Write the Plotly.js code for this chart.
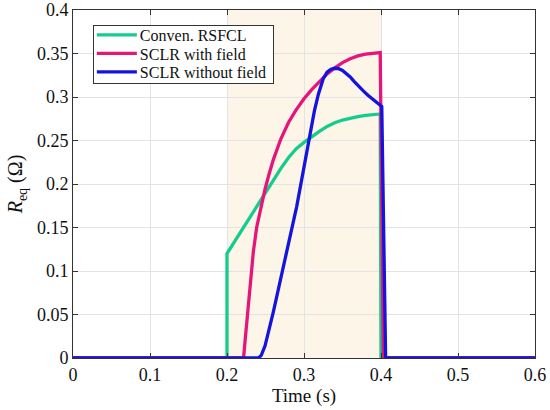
<!DOCTYPE html>
<html>
<head>
<meta charset="utf-8">
<script src="https://cdn.plot.ly/plotly-3.0.1.min.js"></script>
<style>html,body{margin:0;padding:0;background:#fff;}#chart{width:550px;height:410px;}</style>
</head>
<body>
<div id="chart"></div>
<script>
// Series names
const seriesNames = ["Conven. RSFCL", "SCLR with field", "SCLR without field"];

// Conven. RSFCL
const tConv = [0, 0.2, 0.2, 0.21, 0.22, 0.23, 0.24, 0.25, 0.26, 0.27, 0.28, 0.29, 0.30, 0.31, 0.32, 0.33, 0.34, 0.35, 0.36, 0.37, 0.38, 0.39, 0.399, 0.4, 0.6];
const rConv = [0, 0, 0.12, 0.134, 0.1475, 0.161, 0.175, 0.1895, 0.2043, 0.218, 0.2305, 0.2405, 0.2478, 0.2545, 0.2605, 0.2662, 0.2705, 0.2735, 0.2757, 0.2775, 0.2788, 0.2798, 0.2805, 0, 0];

// SCLR with field
const tWith = [0, 0.2215, 0.2235, 0.2264, 0.2299, 0.2342, 0.2385, 0.2435, 0.2494, 0.2545, 0.2602, 0.27, 0.28, 0.29, 0.30, 0.31, 0.32, 0.33, 0.34, 0.35, 0.36, 0.37, 0.38, 0.39, 0.399, 0.403, 0.6];
const rWith = [0, 0, 0.02, 0.05, 0.087, 0.122, 0.15, 0.172, 0.194, 0.211, 0.228, 0.252, 0.271, 0.2855, 0.298, 0.3085, 0.318, 0.3265, 0.3335, 0.3395, 0.344, 0.3472, 0.3492, 0.3503, 0.351, 0, 0];

// SCLR without field
const tWithout = [0, 0.2407, 0.2445, 0.2494, 0.2602, 0.271, 0.2818, 0.2905, 0.297, 0.3035, 0.3078, 0.3135, 0.3186, 0.325, 0.33, 0.335, 0.34, 0.345, 0.35, 0.355, 0.36, 0.365, 0.37, 0.377, 0.383, 0.39, 0.396, 0.401, 0.406, 0.6];
const rWithout = [0, 0, 0.003, 0.014, 0.053, 0.096, 0.14, 0.174, 0.205, 0.236, 0.258, 0.284, 0.303, 0.321, 0.3285, 0.332, 0.333, 0.3325, 0.3305, 0.327, 0.323, 0.318, 0.313, 0.307, 0.302, 0.2965, 0.292, 0.289, 0, 0];

// Fault window (shaded)
const faultWindow = [0.2, 0.4];

// Tick values
const xTicks = [0, 0.1, 0.2, 0.3, 0.4, 0.5, 0.6];
const yTicks = [0, 0.05, 0.1, 0.15, 0.2, 0.25, 0.3, 0.35, 0.4];

const colors = ["#14cc8c", "#e6157a", "#1414dc"];
const serif = "Liberation Serif";

const traces = [
  {x: tConv, y: rConv, name: seriesNames[0], mode: "lines", line: {color: colors[0], width: 3.3}},
  {x: tWith, y: rWith, name: seriesNames[1], mode: "lines", line: {color: colors[1], width: 3.3}},
  {x: tWithout, y: rWithout, name: seriesNames[2], mode: "lines", line: {color: colors[2], width: 3.3}}
];

const axisCommon = {
  showline: true, mirror: "ticks", linecolor: "#333", linewidth: 1,
  ticks: "inside", ticklen: 5, tickcolor: "#333",
  showgrid: true, gridcolor: "#e3e3e3", gridwidth: 1,
  zeroline: false,
  tickfont: {family: serif, size: 18, color: "#111"}
};

const layout = {
  width: 550, height: 410,
  margin: {l: 73, r: 15, t: 10, b: 52},
  paper_bgcolor: "#fff", plot_bgcolor: "#fff",
  font: {family: serif, color: "#111", size: 18},
  xaxis: Object.assign({}, axisCommon, {
    range: [0, 0.6], tickvals: xTicks, ticktext: xTicks.map(String),
    title: {text: "Time (s)", font: {size: 19, family: serif, color: "#111"}, standoff: 3}
  }),
  yaxis: Object.assign({}, axisCommon, {
    range: [0, 0.4], tickvals: yTicks, ticktext: yTicks.map(String),
    title: {text: "<i>R</i><sub>eq</sub> (Ω)", font: {size: 20, family: serif, color: "#111"}, standoff: 8}
  }),
  shapes: [{
    type: "rect", xref: "x", yref: "paper",
    x0: faultWindow[0], x1: faultWindow[1], y0: 0, y1: 1,
    fillcolor: "#fdf5e8", line: {width: 0}, layer: "below"
  }],
  legend: {
    x: 0.043, y: 0.957, xanchor: "left", yanchor: "top",
    bgcolor: "#fff", bordercolor: "#333", borderwidth: 1,
    font: {size: 16, family: serif, color: "#111"},
    tracegroupgap: 0, itemwidth: 30
  },
  showlegend: true
};

Plotly.newPlot("chart", traces, layout, {displayModeBar: false, staticPlot: true}).then(function (gd) {
  // Tighten the legend rows to match the compact reference legend
  try {
    const leg = gd.querySelector(".legend");
    if (!leg) return;
    const rowGap = 18.5, firstRow = 10, boxW = 180, boxH = 58;
    const items = leg.querySelectorAll(".traces");
    items.forEach(function (g, i) {
      const m = (g.getAttribute("transform") || "").match(/translate\(\s*([-\d.]+)[ ,]+([-\d.]+)\s*\)/);
      const x = m ? parseFloat(m[1]) : 1;
      g.setAttribute("transform", "translate(" + x + "," + (firstRow + i * rowGap) + ")");
      const p = g.querySelector(".legendlines path");
      if (p) p.setAttribute("d", "M3,0h40");
      const t = g.querySelector("text.legendtext");
      if (t) t.setAttribute("x", "46");
    });
    const bg = leg.querySelector("rect.bg");
    if (bg) { bg.setAttribute("height", boxH); bg.setAttribute("width", boxW); }
    document.querySelectorAll("clipPath rect").forEach(function (r) {
      const cp = r.parentNode;
      if (cp && cp.id && cp.id.indexOf("legend") === 0) {
        r.setAttribute("width", boxW); r.setAttribute("height", boxH);
      }
    });
  } catch (e) {}
});
</script>
</body>
</html>
